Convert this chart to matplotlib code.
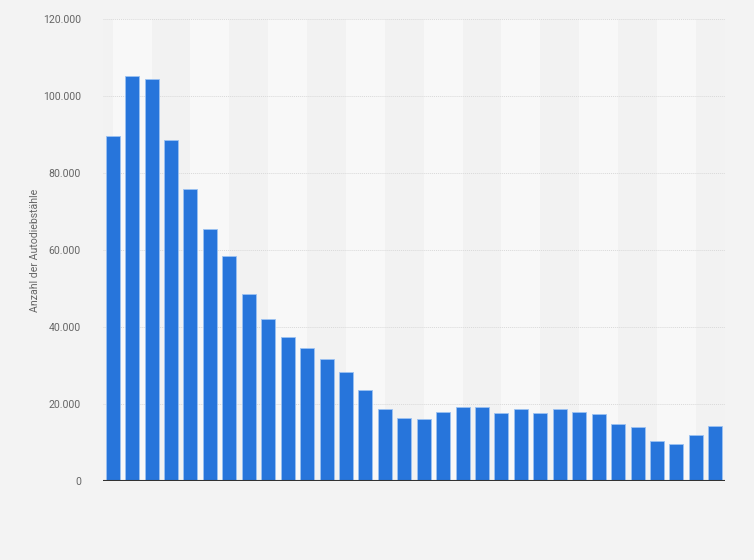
import matplotlib as mpl
import matplotlib.pyplot as plt
import matplotlib.ticker as mtick
import numpy as np

mpl.rcParams['font.family'] = ['Roboto', 'DejaVu Sans']

# Anzahl der Autodiebstaehle pro Jahr (keine Jahreslabels im Bild)
values = [89700, 105300, 104500, 88700, 75900, 65500, 58500, 48500,
          42200, 37300, 34500, 31600, 28400, 23600, 18800, 16300,
          16100, 18000, 19300, 19300, 17800, 18600, 17800, 18600,
          18000, 17300, 14900, 14100, 10500, 9700, 12000, 14400]
yticks = [0, 20000, 40000, 60000, 80000, 100000, 120000]
ylabel = 'Anzahl der Autodiebstähle'

bg = '#f3f3f3'
bar_color = '#2775db'

fig = plt.figure(figsize=(7.54, 5.60), dpi=100, facecolor=bg)
ax = fig.add_axes([103 / 754, 1 - 481 / 560, 622 / 754, 461.7 / 560])
ax.set_facecolor(bg)

n = len(values)
x = np.arange(n)

# alternating column bands
for start in range(0, n, 2):
    c = '#f8f8f8' if start % 4 == 0 else '#f2f2f2'
    ax.axvspan(start, start + 2, color=c, zorder=0, lw=0)
ax.axvspan(-0.5, 0, color='#f2f2f2', zorder=0, lw=0)

ax.bar(x, values, width=0.72, color=bar_color, edgecolor='#9cc2f2',
       linewidth=0.6, zorder=3)

ax.set_xlim(-0.5, n - 0.5)
ax.set_ylim(0, 120000)
ax.set_yticks(yticks)
ax.yaxis.set_major_formatter(mtick.FuncFormatter(
    lambda v, p: '{:,.0f}'.format(v).replace(',', '.')))
ax.set_xticks([])
ax.grid(axis='y', color='#d9d9d9', linestyle=(0, (1, 1)), linewidth=0.7, zorder=1)
ax.axhline(0, color='#333333', linewidth=1.5, zorder=4)

for s in ax.spines.values():
    s.set_visible(False)
ax.tick_params(axis='y', length=0, pad=16, labelsize=7.6, labelcolor='#666666')

ax.set_ylabel(ylabel, fontsize=7.6, color='#666666')
ax.yaxis.set_label_coords(-63 / 622, 0.5)

plt.savefig('out.png', dpi=100, facecolor=bg)
